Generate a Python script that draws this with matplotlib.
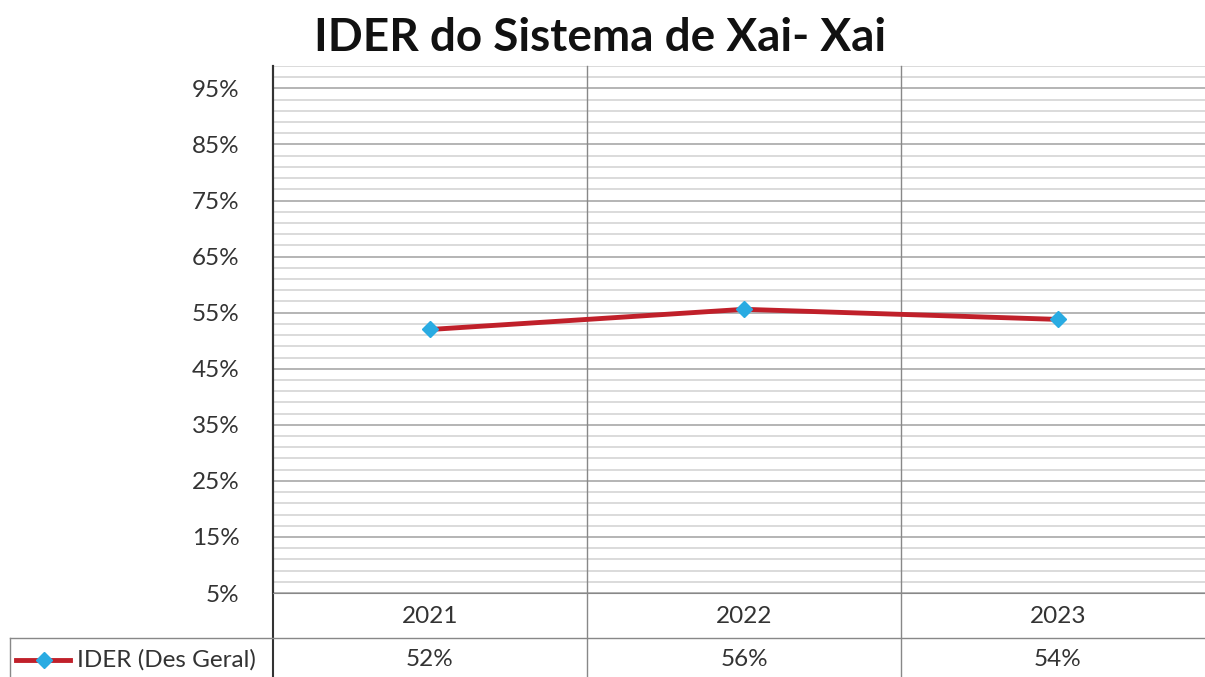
import numpy as np
from matplotlib import pyplot as plt
from matplotlib.ticker import FixedLocator, FuncFormatter
import matplotlib.transforms as mtransforms

years = ["2021", "2022", "2023"]
ider = [0.520, 0.556, 0.538]
series_name = "IDER (Des Geral)"
title = "IDER do Sistema de Xai- Xai"
y_ticks = [0.05, 0.15, 0.25, 0.35, 0.45, 0.55, 0.65, 0.75, 0.85, 0.95]

plt.rcParams['font.family'] = ['Lato', 'DejaVu Sans']

fig = plt.figure(figsize=(12.05, 6.77), dpi=100)
W, H = 1205, 677
# plot area in pixels: left 273, right ~1215 (cropped), top 66, bottom 593
ax = fig.add_axes([273 / W, (H - 593) / H, 942 / W, (593 - 66) / H])

x = np.arange(len(years))
ax.plot(x, ider, color="#c0202a", lw=3.5, marker="D", ms=8,
        mfc="#29abe2", mec="#29abe2", zorder=5, solid_capstyle="round")

ax.set_xlim(-0.5, len(years) - 0.5)
ax.set_ylim(0.05, 0.99)
ax.yaxis.set_major_locator(FixedLocator(y_ticks))
ax.yaxis.set_minor_locator(FixedLocator(np.arange(0.05, 0.9901, 0.02)))
ax.yaxis.set_major_formatter(FuncFormatter(lambda v, p: f"{v*100:.0f}%"))
ax.tick_params(axis="y", which="both", length=0, labelsize=17.5, pad=24,
               labelcolor="#333333")
ax.set_xticks([])

ax.grid(axis="y", which="minor", color="#d4d4d4", lw=1.2)
ax.grid(axis="y", which="major", color="#a8a8a8", lw=1.2)
ax.set_axisbelow(True)

for s in ["top", "right"]:
    ax.spines[s].set_visible(False)
ax.spines["left"].set_color("#333333")
ax.spines["left"].set_linewidth(1.5)
ax.spines["bottom"].set_color("#888888")

# data table below the plot
tr = mtransforms.blended_transform_factory(ax.transData, ax.transAxes)
y_year = -0.044
y_line = -0.0853
y_val = -0.127
y_bot = -0.16

for b in np.arange(len(years) + 1) - 0.5:
    c = "#333333" if b == -0.5 else "#888888"
    ax.plot([b, b], [1.0, y_bot], transform=tr, color=c,
            lw=1.5 if b == -0.5 else 1.0, clip_on=False, zorder=1)

ax.plot([-1.3376, len(years) - 0.5], [y_line, y_line], transform=tr,
        color="#888888", lw=1.0, clip_on=False)
ax.plot([-1.3376, -1.3376], [y_line, y_bot], transform=tr,
        color="#888888", lw=1.0, clip_on=False)

for i, (yr, v) in enumerate(zip(years, ider)):
    ax.text(i, y_year, yr, transform=tr, ha="center", va="center",
            fontsize=17.5, color="#333333")
    ax.text(i, y_val, f"{v*100:.0f}%", transform=tr, ha="center",
            va="center", fontsize=17.5, color="#333333")

# legend key inside the table
ax.plot([-1.32, -1.145], [y_val, y_val], transform=tr, color="#c0202a",
        lw=3.5, clip_on=False)
ax.plot([-1.23], [y_val], transform=tr, marker="D", ms=8,
        color="#29abe2", clip_on=False)
ax.text(-1.125, y_val, series_name, transform=tr, ha="left", va="center",
        fontsize=17.5, color="#333333")

fig.text(600 / W, 1 - 38 / H, title, ha="center", va="center",
         fontsize=33, fontweight="bold", color="#111111")

fig.savefig("out.png", dpi=100)
